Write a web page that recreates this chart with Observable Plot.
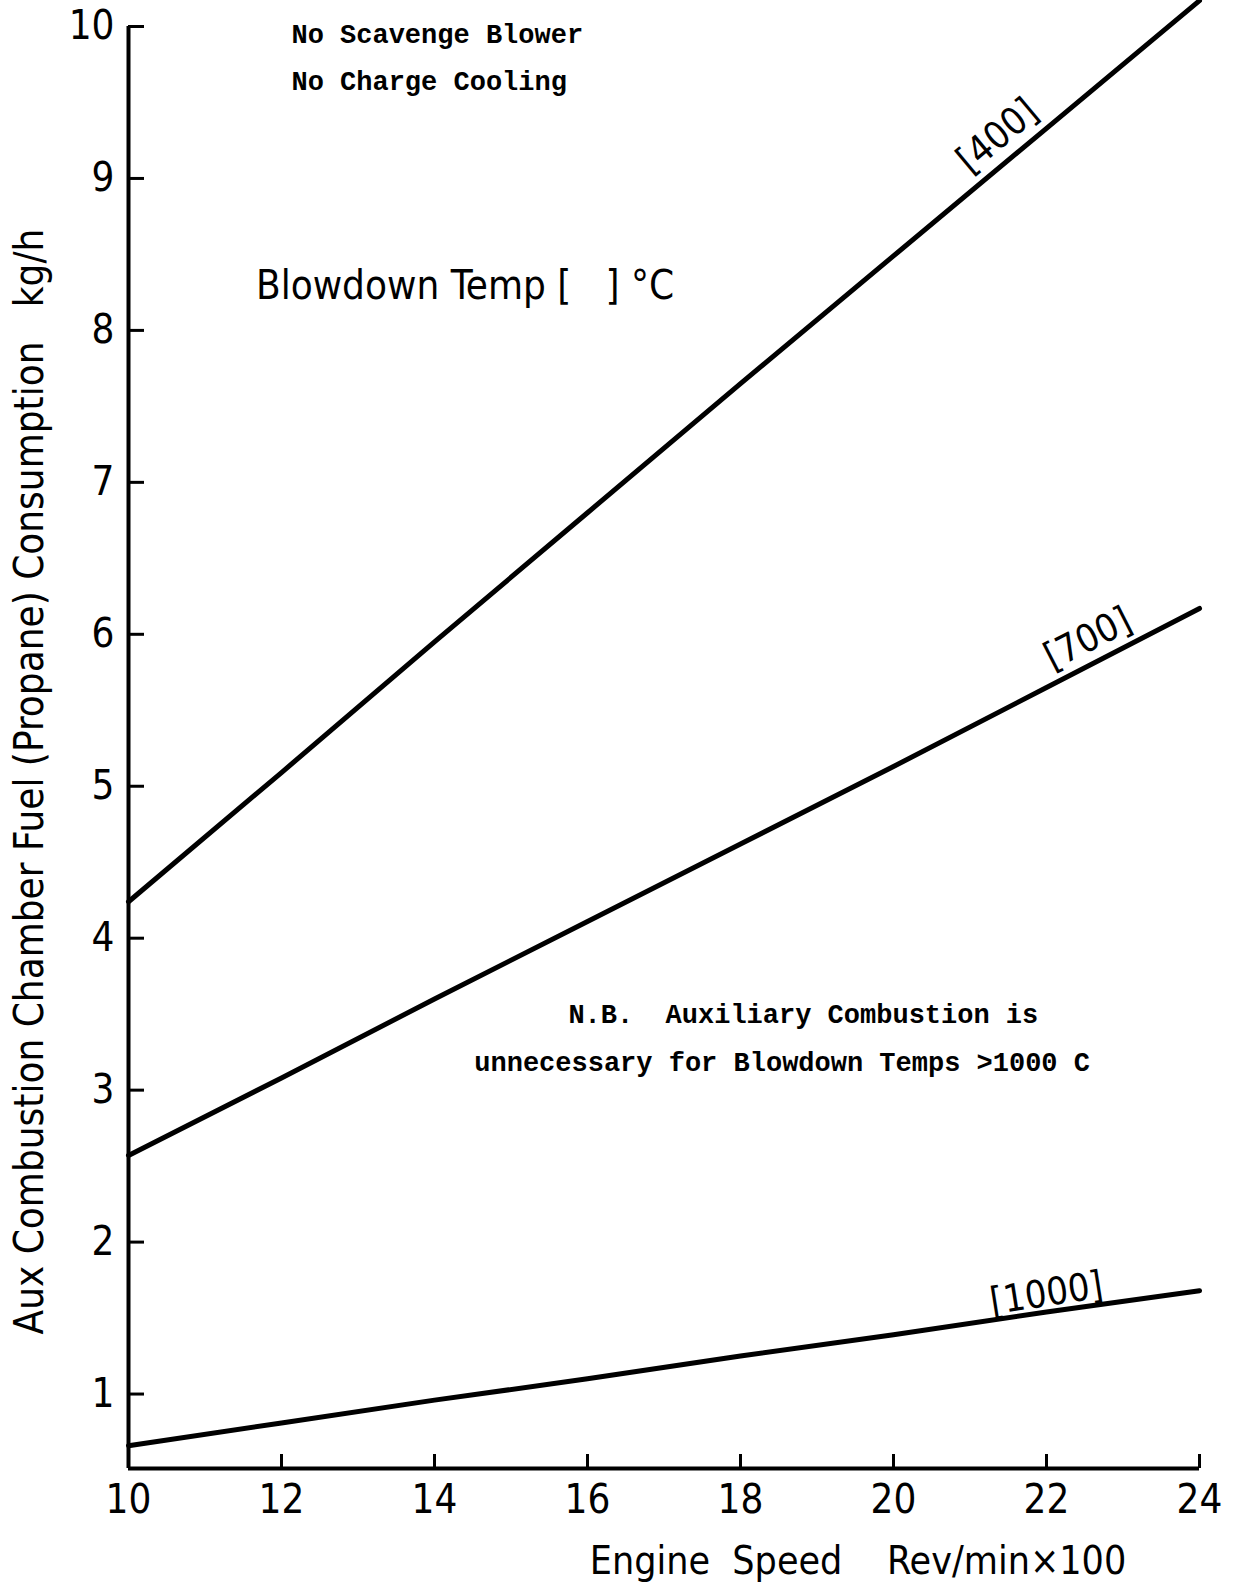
<!DOCTYPE html>
<html>
<head>
<meta charset="utf-8">
<script src="https://cdn.jsdelivr.net/npm/d3@7"></script>
<script src="https://cdn.jsdelivr.net/npm/@observablehq/plot@0.6"></script>
<style>
  html, body { margin: 0; padding: 0; background: #fff; }
</style>
</head>
<body>
<div id="chart"></div>
<script>
// Engine speed (Rev/min x 100)
const speeds = [10, 12, 14, 16, 18, 20, 22, 24];
// Aux combustion chamber fuel consumption (kg/h) per blowdown temperature
const fuel400 = [4.24, 5.09, 5.95, 6.80, 7.65, 8.49, 9.33, 10.17];
const fuel700 = [2.57, 3.08, 3.60, 4.11, 4.62, 5.13, 5.65, 6.17];
const fuel1000 = [0.66, 0.81, 0.96, 1.10, 1.25, 1.39, 1.54, 1.68];
const seriesNames = ["[400]", "[700]", "[1000]"];
// curve label anchor points (data units) and rotation
const labelX = [21.36, 22.54, 22.0];
const labelY = [9.28, 5.97, 1.66];
const labelAngle = [-40, -27, -9];

const xTicks = [10, 12, 14, 16, 18, 20, 22, 24];
const yTicks = [1, 2, 3, 4, 5, 6, 7, 8, 9, 10];
const xDomain = [10, 24];
const yDomain = [0.51, 10];

const yLabel = "Aux Combustion Chamber Fuel (Propane) Consumption\u00a0\u00a0\u00a0kg/h";
const xLabel = "Engine\u00a0 Speed\u00a0\u00a0\u00a0 Rev/min\u00d7100";
const noteTexts = ["No Scavenge Blower", "No Charge Cooling"];
const noteX = [12.13, 12.13];
const noteY = [9.95, 9.64];
const legendTitle = "Blowdown Temp [\u00a0\u00a0\u00a0] \u00b0C";
const nbTexts = ["N.B.\u00a0 Auxiliary Combustion is", "unnecessary for Blowdown Temps >1000 C"];
const nbX = [15.75, 14.52];
const nbY = [3.50, 3.18];

const allSeries = [fuel400, fuel700, fuel1000];
const lines = allSeries.flatMap((vals, s) =>
  speeds.map((x, i) => ({series: seriesNames[s], x, y: vals[i]}))
);
const curveLabels = seriesNames.map((name, i) => ({name, x: labelX[i], y: labelY[i], angle: labelAngle[i]}));
const notes = noteTexts.map((t, i) => ({t, x: noteX[i], y: noteY[i]}));
const nbs = nbTexts.map((t, i) => ({t, x: nbX[i], y: nbY[i]}));

const sansFont = "'DejaVu Sans', sans-serif";
const monoFont = "'Liberation Mono', 'DejaVu Sans Mono', monospace";

const plot = Plot.plot({
  width: 1234,
  height: 1582,
  marginLeft: 128,
  marginRight: 35,
  marginTop: 26,
  marginBottom: 114,
  style: {fontFamily: sansFont, fontSize: "38px", color: "#000", background: "#fff", fontStretch: "condensed"},
  x: {domain: xDomain, ticks: xTicks, label: null},
  y: {domain: yDomain, ticks: yTicks, label: null},
  marks: [
    Plot.axisX({ticks: xTicks, tickSize: -14, tickPadding: 30, strokeWidth: 3, fontSize: 40, label: null, tickFormat: d => String(d)}),
    Plot.axisY({ticks: yTicks, tickSize: -16, tickPadding: 30, strokeWidth: 3, fontSize: 40, label: null, tickFormat: d => String(d)}),
    Plot.ruleX([xDomain[0]], {stroke: "#000", strokeWidth: 4}),
    Plot.ruleY([yDomain[0]], {stroke: "#000", strokeWidth: 4}),
    Plot.line(lines, {x: "x", y: "y", z: "series", stroke: "#000", strokeWidth: 5}),
    Plot.text(curveLabels, {x: "x", y: "y", text: "name", rotate: d => d.angle, fontSize: 38, textAnchor: "middle", lineAnchor: "middle"}),
    Plot.text(notes, {x: "x", y: "y", text: "t", fontFamily: monoFont, fontWeight: "bold", fontSize: 27, textAnchor: "start", lineAnchor: "middle"}),
    Plot.text([legendTitle], {x: [14.4], y: [8.29], text: d => d, fontSize: 40, textAnchor: "middle", lineAnchor: "middle"}),
    Plot.text(nbs, {x: "x", y: "y", text: "t", fontFamily: monoFont, fontWeight: "bold", fontSize: 27, textAnchor: "start", lineAnchor: "middle"}),
    Plot.text([yLabel], {frameAnchor: "left", text: d => d, rotate: -90, dx: -98, dy: 34, fontSize: 40, textAnchor: "middle", lineAnchor: "middle"}),
    Plot.text([xLabel], {frameAnchor: "bottom", text: d => d, dx: 194, dy: 93, fontSize: 39, textAnchor: "middle", lineAnchor: "middle"})
  ]
});
document.getElementById("chart").appendChild(plot);
</script>
</body>
</html>
